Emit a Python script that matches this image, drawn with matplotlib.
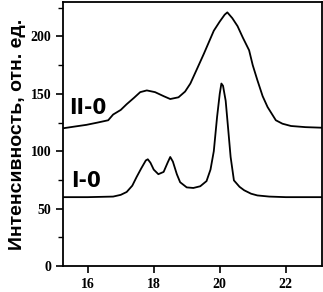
import matplotlib.pyplot as plt

# спектры (читались с рисунка)
x_i0 = [15.25, 16.0, 16.77, 17.0, 17.18, 17.35, 17.48, 17.62, 17.76, 17.82, 17.9, 18.0, 18.14, 18.3,
        18.42, 18.5, 18.58, 18.7, 18.8, 19.0, 19.2, 19.41, 19.6, 19.72, 19.82, 19.92, 20.0, 20.05,
        20.1, 20.18, 20.26, 20.33, 20.43, 20.6, 20.74, 20.95, 21.14, 21.5, 22.0, 23.1]
y_i0 = [60, 60, 60.5, 62, 64.5, 70, 77.5, 85, 92, 93, 90, 84, 80, 82, 90, 95, 91, 80, 73, 68.5, 68,
        69.5, 74, 84, 100, 130, 150, 159, 157, 144, 118, 95, 74.6, 69, 66, 63, 61.5, 60.5, 60, 60]

x_ii0 = [15.25, 15.6, 15.96, 16.3, 16.62, 16.77, 17.0, 17.18, 17.4, 17.59, 17.79, 18.04, 18.3, 18.5,
         18.75, 18.95, 19.11, 19.3, 19.52, 19.7, 19.82, 20.0, 20.15, 20.23, 20.38, 20.54, 20.7,
         20.89, 21.0, 21.14, 21.3, 21.45, 21.7, 21.9, 22.16, 22.6, 23.1]
y_ii0 = [120, 121.5, 123, 125, 127, 132, 136, 141, 146.5, 151.5, 153, 151.5, 148, 145.5, 147, 152,
         159, 171, 185, 197, 205, 213, 219, 221, 216, 209, 199, 188, 175, 162, 148, 138.5, 127,
         124, 122, 121, 120.5]

labels = ['II-0', 'I-0']
label_pos = [(15.45, 138), (15.5, 74)]

fig = plt.figure(figsize=(3.23, 2.92), dpi=100)
ax = fig.add_axes([0.195, 0.089, 0.802, 0.904])

ax.plot(x_i0, y_i0, color='black', lw=1.3)
ax.plot(x_ii0, y_ii0, color='black', lw=1.3)

for t, (lx, ly) in zip(labels, label_pos):
    ax.text(lx, ly, t, fontsize=16, fontweight='bold', va='center', ha='left',
            family='DejaVu Sans', fontstretch='condensed')

ax.set_xlim(15.25, 23.1)
ax.set_ylim(0, 230)
ax.set_xticks([16, 18, 20, 22])
ax.set_yticks([0, 50, 100, 150, 200])
ax.set_yticks([25, 75, 125, 175, 225], minor=True)
ax.tick_params(direction='out', length=5, width=1.2, labelsize=10, pad=3.5)
ax.tick_params(which='minor', length=3.5, width=1)
for lab in ax.get_xticklabels() + ax.get_yticklabels():
    lab.set_family('Liberation Serif')
    lab.set_fontweight('bold')
for s in ax.spines.values():
    s.set_linewidth(1.3)

ax.set_ylabel('Интенсивность, отн. ед.', fontsize=14, fontweight='bold',
              family=['Liberation Sans', 'DejaVu Sans'], labelpad=3)

plt.savefig('out.png', dpi=100)
